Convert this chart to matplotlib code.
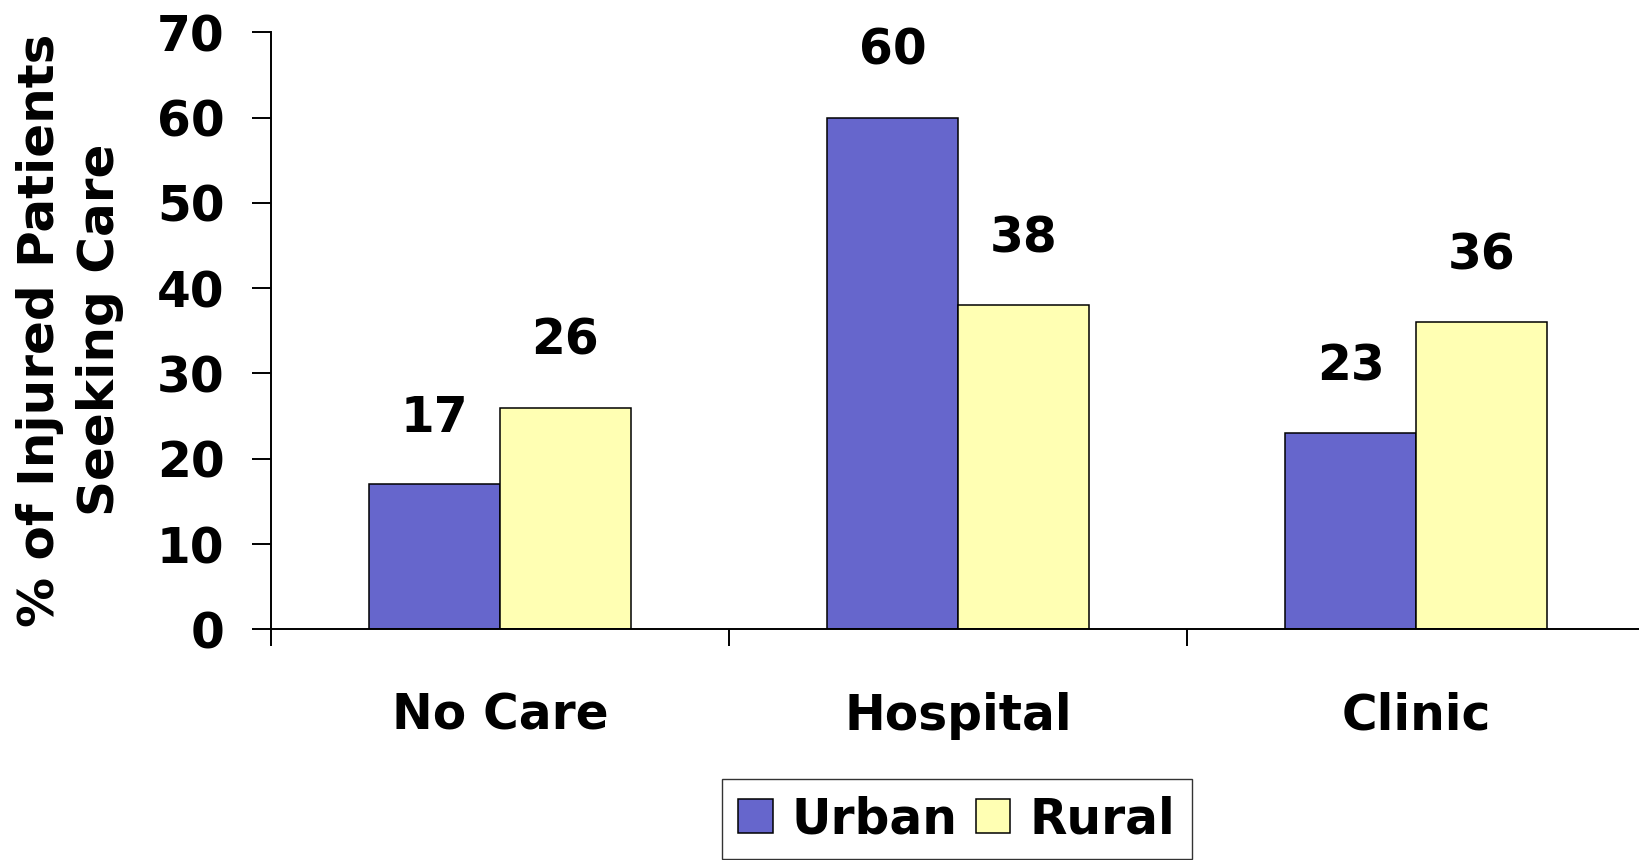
import numpy as np
import matplotlib.pyplot as plt

# Share of injured patients by where they sought care
categories = ['No Care', 'Hospital', 'Clinic']
urban = [17, 60, 23]
rural = [26, 38, 36]
series_names = ['Urban', 'Rural']
y_ticks = [0, 10, 20, 30, 40, 50, 60, 70]

URBAN_COLOR = '#6666CC'
RURAL_COLOR = '#FFFFB3'

plt.rcParams['font.family'] = ['DejaVu Sans']
plt.rcParams['font.weight'] = 'bold'
FS = 35

W, H = 1639, 860
fig = plt.figure(figsize=(W / 100, H / 100), dpi=100)
ax = fig.add_axes([271 / W, 1 - 629.3 / H, (1645 - 271) / W, (629.3 - 32.3) / H])

centers = np.arange(len(categories)) + 0.5
bar_w = 0.286

b1 = ax.bar(centers - bar_w / 2, urban, bar_w, color=URBAN_COLOR,
            edgecolor='black', linewidth=1.1, label=series_names[0])
b2 = ax.bar(centers + bar_w / 2, rural, bar_w, color=RURAL_COLOR,
            edgecolor='black', linewidth=1.1, label=series_names[1])

# value labels above each bar
for bars, vals in ((b1, urban), (b2, rural)):
    for rect, v in zip(bars, vals):
        ax.annotate(f'{v}', (rect.get_x() + rect.get_width() / 2, v),
                    xytext=(0, 48), textcoords='offset points',
                    ha='center', va='center', fontsize=FS, fontweight='bold')

ax.set_xlim(0, len(categories))
ax.set_ylim(0, 70)
ax.set_yticks(y_ticks)
ax.tick_params(axis='y', length=13.5, width=1.4, pad=20, labelsize=FS)

# boundary ticks on the x axis, category names in between
ax.set_xticks(np.arange(len(categories) + 1))
ax.set_xticklabels([])
ax.set_xticks(centers, minor=True)
ax.set_xticklabels(categories, minor=True, fontsize=FS, fontweight='bold')
ax.tick_params(axis='x', which='major', length=12.5, width=1.4)
ax.tick_params(axis='x', which='minor', length=0, pad=45)

for side in ('top', 'right'):
    ax.spines[side].set_visible(False)
for side in ('left', 'bottom'):
    ax.spines[side].set_linewidth(1.4)

fig.text(70 / W, 1 - 330 / H, '% of Injured Patients\nSeeking Care',
         rotation=90, ha='center', va='center', multialignment='center',
         fontsize=36, fontweight='bold', linespacing=1.3)

leg = fig.legend(handles=[b1, b2], loc='center', bbox_to_anchor=(957 / W, 1 - 819 / H),
                 ncol=2, fontsize=FS, frameon=True, fancybox=False,
                 handlelength=0.7, handleheight=0.7, handletextpad=0.4,
                 columnspacing=0.38, borderpad=0.33, borderaxespad=0)
leg.get_frame().set_edgecolor('black')
leg.get_frame().set_linewidth(1.0)

fig.savefig('out.png', dpi=100)
